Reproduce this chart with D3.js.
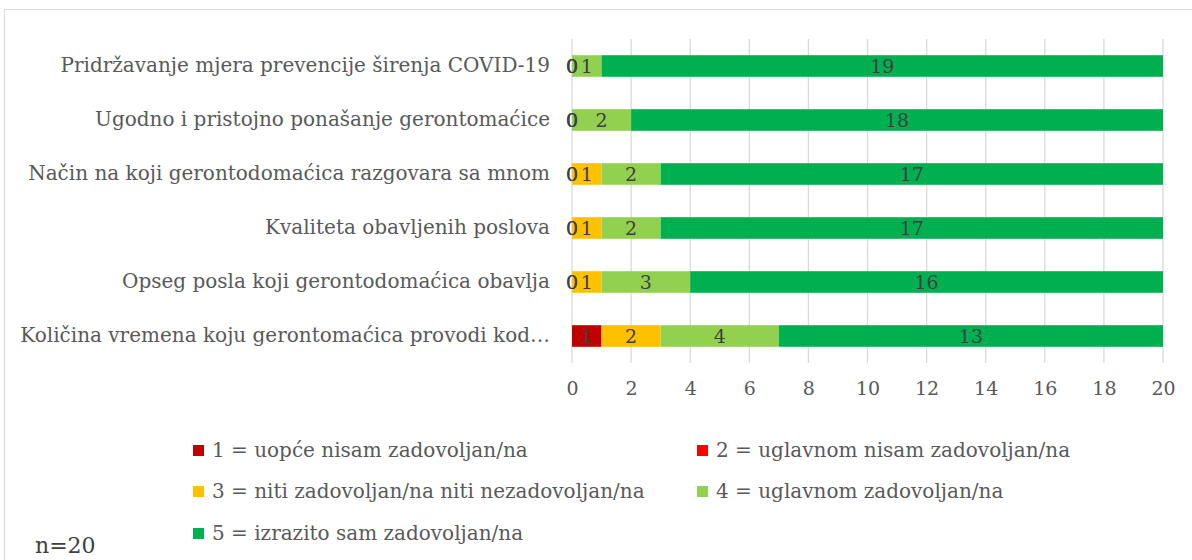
<!DOCTYPE html>
<html>
<head>
<meta charset="utf-8">
<script src="https://cdn.jsdelivr.net/npm/d3@7"></script>
<style>
  body { margin: 0; background: #fff; }
  svg text { font-family: "DejaVu Serif", serif; }
</style>
</head>
<body>
<svg id="canvas" width="1192" height="560"></svg>
<script>
var categories = [
  'Pridržavanje mjera prevencije širenja COVID-19',
  'Ugodno i pristojno ponašanje gerontomaćice',
  'Način na koji gerontodomaćica razgovara sa mnom',
  'Kvaliteta obavljenih poslova',
  'Opseg posla koji gerontodomaćica obavlja',
  'Količina vremena koju gerontomaćica provodi kod…',
];
var seriesNames = [
  '1 = uopće nisam zadovoljan/na',
  '2 = uglavnom nisam zadovoljan/na',
  '3 = niti zadovoljan/na niti nezadovoljan/na',
  '4 = uglavnom zadovoljan/na',
  '5 = izrazito sam zadovoljan/na',
];
// one array per series, in category order (null = no value in the table)
var s1 = [0, 0, 0, 0, 0, 1];
var s2 = [0, 0, 0, 0, 0, null];
var s3 = [0, 0, 1, 1, 1, 2];
var s4 = [1, 2, 2, 2, 3, 4];
var s5 = [19, 18, 17, 17, 16, 13];
var colors = ['#C00000', '#FF0000', '#FFC000', '#92D050', '#00B050'];
var ticks = [0, 2, 4, 6, 8, 10, 12, 14, 16, 18, 20];
var note = 'n=20';

var svg = d3.select('#canvas');

svg.append('rect')
  .attr('x', 4.5).attr('y', 9.5)
  .attr('width', 1200).attr('height', 600)
  .attr('fill', '#fff')
  .attr('stroke', '#d9d9d9');

var x = d3.scaleLinear().domain([0, 20]).range([572, 1163]);
var y = d3.scaleBand().domain(categories).range([39, 363]).paddingInner(0.6).paddingOuter(0.3);

var table = categories.map(function(c, i) {
  return {cat: c, s1: s1[i], s2: s2[i], s3: s3[i], s4: s4[i], s5: s5[i]};
});
var keys = ['s1', 's2', 's3', 's4', 's5'];
var stacked = d3.stack().keys(keys).value(function(d, k) { return d[k] || 0; })(table);

// grid lines
svg.append('g')
  .selectAll('line')
  .data(ticks)
  .enter()
  .append('line')
  .attr('x1', d => x(d)).attr('x2', d => x(d))
  .attr('y1', 39).attr('y2', 363)
  .attr('stroke', '#d9d9d9')
  .attr('stroke-width', 1.3);

// x axis
var xAxis = svg.append('g')
  .attr('transform', 'translate(0,381)')
  .call(d3.axisBottom(x).tickValues(ticks).tickSize(0).tickPadding(0));
xAxis.select('.domain').remove();
xAxis.selectAll('text')
  .style('font-family', '"DejaVu Serif", serif')
  .style('font-size', '19px')
  .attr('fill', '#595959');

// category labels
var yAxis = svg.append('g')
  .attr('transform', 'translate(550,0)')
  .call(d3.axisLeft(y).tickSize(0).tickPadding(0));
yAxis.select('.domain').remove();
yAxis.selectAll('text')
  .style('font-family', '"DejaVu Serif", serif')
  .style('font-size', '20px')
  .attr('fill', '#595959');

// bars
var layers = svg.append('g')
  .selectAll('.layer')
  .data(stacked)
  .enter()
  .append('g')
  .attr('class', 'layer')
  .attr('fill', (d, i) => colors[i]);

layers.selectAll('rect')
  .data(d => d)
  .enter()
  .append('rect')
  .attr('x', d => x(d[0]))
  .attr('y', d => y(d.data.cat))
  .attr('width', d => x(d[1]) - x(d[0]))
  .attr('height', y.bandwidth());

// data labels
svg.append('g')
  .selectAll('.lbl')
  .data(stacked)
  .enter()
  .append('g')
  .attr('class', 'lbl')
  .selectAll('text')
  .data(function(layer) {
    return layer.filter(d => d.data[layer.key] != null)
      .map(d => ({v: d.data[layer.key], x0: d[0], x1: d[1], cat: d.data.cat}));
  })
  .enter()
  .append('text')
  .attr('x', d => x((d.x0 + d.x1) / 2))
  .attr('y', d => y(d.cat) + y.bandwidth() / 2)
  .attr('text-anchor', 'middle')
  .attr('dy', '0.35em')
  .style('font-size', '19px')
  .attr('fill', '#404040')
  .text(d => d.v);

// legend
var legendPos = [[193, 450], [697, 450], [193, 491], [697, 491], [193, 533]];
var legend = svg.append('g')
  .selectAll('g')
  .data(seriesNames)
  .enter()
  .append('g')
  .attr('transform', (d, i) => 'translate(' + legendPos[i][0] + ',' + legendPos[i][1] + ')');
legend.append('rect')
  .attr('x', 0).attr('y', -5)
  .attr('width', 11).attr('height', 11)
  .attr('fill', (d, i) => colors[i]);
legend.append('text')
  .attr('x', 19)
  .attr('dy', '0.35em')
  .style('font-size', '20px')
  .attr('fill', '#595959')
  .text(d => d);

svg.append('text')
  .attr('x', 35).attr('y', 553)
  .style('font-size', '22px')
  .attr('fill', '#404040')
  .text(note);
</script>
</body>
</html>
